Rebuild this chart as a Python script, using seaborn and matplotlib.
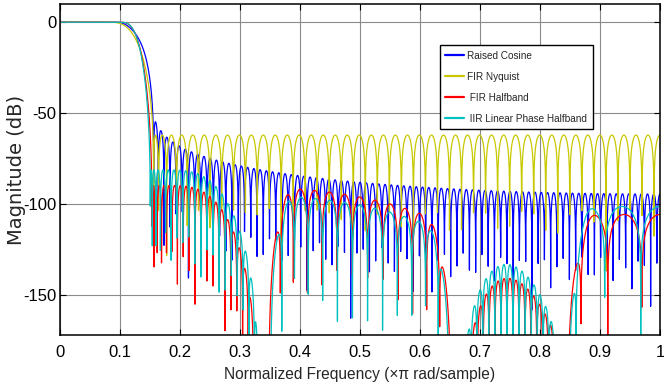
import numpy as np
import pandas as pd
import matplotlib
matplotlib.use("Agg")
import matplotlib.pyplot as plt
import seaborn as sns

# ---------------- data (filter specs) ----------------
series = ["Raised Cosine", "FIR Nyquist", " FIR Halfband", " IIR Linear Phase Halfband"]
colors = ["#0000ff", "#c8c800", "#ff0000", "#00c0c0"]

# raised cosine: interpolation factor, roll-off, span in symbols
rc_factor = 8
rc_beta = 0.25
rc_span = 24

# FIR Nyquist (equiripple): length, passband edge, stopband edge (x pi)
nyq_len = 101
nyq_edges = [0.085, 0.155]

# multistage halfband cascades: stage lengths and stopband edges (x pi, own rate)
# stages are applied at z^4, z^2 and z^1
stage_rates = [4, 2, 1]
fir_hb_len = [47, 35, 15]
fir_hb_stop = [0.612, 0.649, 0.84]
iir_hb_len = [47, 35, 15]
iir_hb_stop = [0.600, 0.657, 0.83]

x_ticks = [0, 0.1, 0.2, 0.3, 0.4, 0.5, 0.6, 0.7, 0.8, 0.9, 1]
x_tick_labels = ["0", "0.1", "0.2", "0.3", "0.4", "0.5", "0.6", "0.7", "0.8", "0.9", "1"]
y_ticks = [-150, -100, -50, 0]
y_tick_labels = ["-150", "-100", "-50", "0"]
x_limits = [0, 1]
y_limits = [-172, 10]
nfft = 16384


# ---------------- filter designs ----------------
def halfband(n, ws, grid=1500, iters=400):
    k = (n - 3) // 4
    w = np.linspace(ws * np.pi, np.pi, grid)
    odd = 2 * np.arange(k + 1) + 1
    C = np.cos(np.outer(w, odd))
    v = np.ones(grid) / grid
    c = np.zeros(k + 1)
    for _ in range(iters):
        sw = np.sqrt(v)
        c = np.linalg.lstsq(C * sw[:, None], -0.5 * sw, rcond=None)[0]
        e = np.abs(0.5 + C @ c)
        v = v * e + 1e-300
        v /= v.sum()
    h = np.zeros(n)
    mid = n // 2
    h[mid] = 0.5
    for j, o in enumerate(odd):
        h[mid + o] = h[mid - o] = c[j] / 2
    return h


def lowpass(n, wp, ws, iters=300):
    M = (n - 1) // 2
    wpass = np.linspace(0, wp * np.pi, 250)
    wstop = np.linspace(ws * np.pi, np.pi, 1400)
    w = np.concatenate([wpass, wstop])
    d = np.concatenate([np.ones_like(wpass), np.zeros_like(wstop)])
    C = np.cos(np.outer(w, np.arange(M + 1)))
    v = np.ones(len(w)) / len(w)
    a = np.zeros(M + 1)
    for _ in range(iters):
        sw = np.sqrt(v)
        a = np.linalg.lstsq(C * sw[:, None], d * sw, rcond=None)[0]
        e = np.abs(C @ a - d)
        v = v * e + 1e-300
        v /= v.sum()
    h = np.zeros(n)
    h[M] = a[0]
    for k in range(1, M + 1):
        h[M + k] = h[M - k] = a[k] / 2
    return h


def raised_cosine(L, beta, span):
    t = np.arange(-span * L // 2, span * L // 2 + 1) / L
    den = 1 - (2 * beta * t) ** 2
    h = np.sinc(t) * np.cos(np.pi * beta * t)
    safe = np.abs(den) > 1e-10
    h[safe] = h[safe] / den[safe]
    h[~safe] = np.pi / 4 * np.sinc(1 / (2 * beta))
    return h


def cascade(lengths, stops):
    h = np.array([1.0])
    for n, ws, r in zip(lengths, stops, stage_rates):
        hs = halfband(n, ws)
        up = np.zeros(r * (n - 1) + 1)
        up[::r] = hs
        h = np.convolve(h, up)
    return h


def mag_db(h):
    H = np.fft.rfft(h / h.sum(), nfft)
    return 20 * np.log10(np.abs(H) + 1e-12)


freq = np.arange(nfft // 2 + 1) / (nfft // 2)
responses = [
    mag_db(raised_cosine(rc_factor, rc_beta, rc_span)),
    mag_db(lowpass(nyq_len, *nyq_edges)),
    mag_db(cascade(fir_hb_len, fir_hb_stop)),
    mag_db(cascade(iir_hb_len, iir_hb_stop)),
]

df = pd.concat(
    [pd.DataFrame({"f": freq, "mag": r, "series": s}) for s, r in zip(series, responses)],
    ignore_index=True,
)

# ---------------- plotting ----------------
sns.set_style("ticks")
plt.rcParams["font.family"] = ["Liberation Sans", "DejaVu Sans"]
plt.rcParams["axes.unicode_minus"] = False

fig = plt.figure(figsize=(6.64, 3.89), dpi=100)
ax = fig.add_axes([60 / 664, 1 - 335 / 389, 600 / 664, 331 / 389])

sns.lineplot(data=df, x="f", y="mag", hue="series", hue_order=series,
             palette=colors, estimator=None, sort=False, linewidth=0.9, ax=ax)

ax.set_xlim(*x_limits)
ax.set_ylim(*y_limits)
ax.set_xticks(x_ticks)
ax.set_xticklabels(x_tick_labels)
ax.set_yticks(y_ticks)
ax.set_yticklabels(y_tick_labels)
ax.grid(True, color="#8a8a8a", linewidth=0.8)
ax.set_axisbelow(True)
ax.tick_params(direction="in", length=4, width=0.8, top=True, right=True,
               labelsize=12, colors="black")
ax.tick_params(axis="x", pad=7)
ax.tick_params(axis="y", pad=2.5)
for sp in ax.spines.values():
    sp.set_visible(True)
    sp.set_color("black")
    sp.set_linewidth(1.1)

ax.set_xlabel("Normalized Frequency (\u00d7\u03c0 rad/sample)", fontsize=11.2, labelpad=5)
ax.set_ylabel("Magnitude (dB)", fontsize=14, family=["DejaVu Sans"])
ax.yaxis.set_label_coords(-0.056, 0.5)

leg = ax.legend(loc="upper left", bbox_to_anchor=(0.633, 0.875), fontsize=7.2,
                frameon=True, fancybox=False, framealpha=1, edgecolor="black",
                handlelength=1.9, handletextpad=0.3, labelspacing=1.1,
                borderpad=0.55, borderaxespad=0)
leg.get_frame().set_linewidth(1.0)
for line in leg.get_lines():
    line.set_linewidth(1.6)

fig.savefig("out.png", dpi=100)
